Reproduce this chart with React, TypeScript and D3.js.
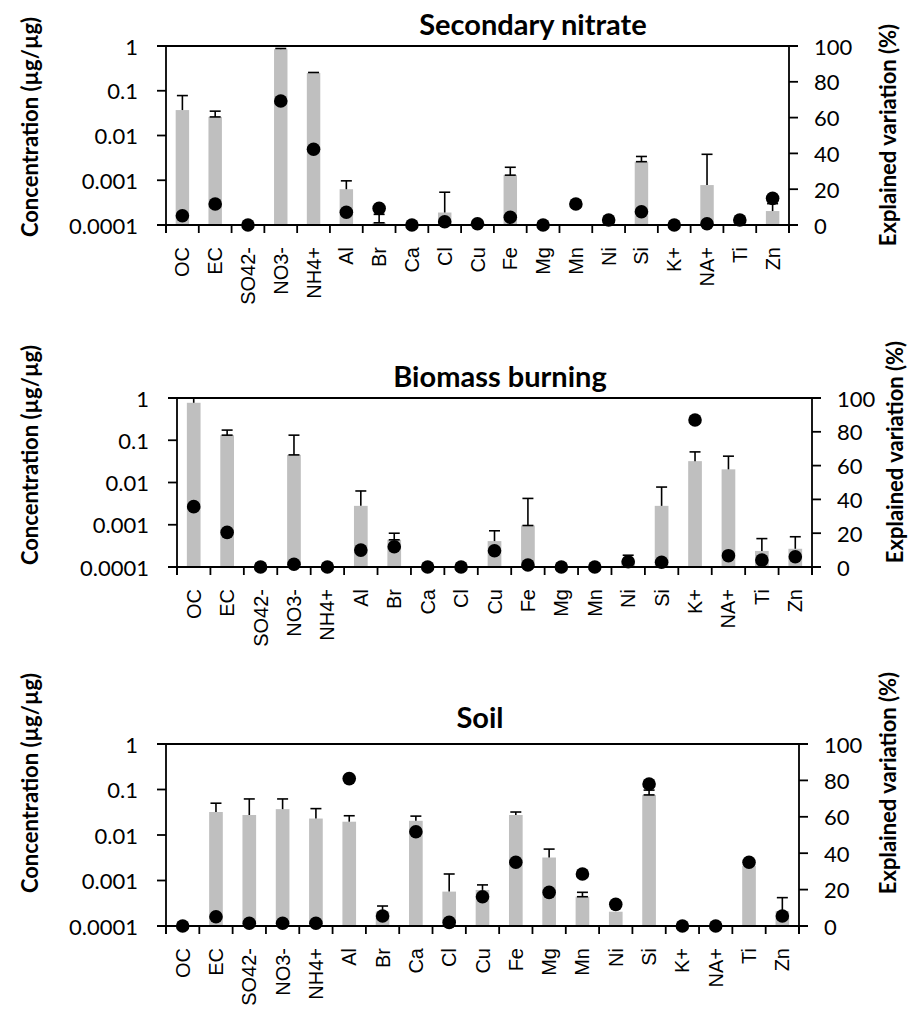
import React from "react";
import * as d3 from "d3";

// Chemical species shown on every panel
const categories = [
  "OC", "EC", "SO42-", "NO3-", "NH4+", "Al", "Br", "Ca", "Cl", "Cu",
  "Fe", "Mg", "Mn", "Ni", "Si", "K+", "NA+", "Ti", "Zn",
];

const concTicks = [0.0001, 0.001, 0.01, 0.1, 1];
const concTickLabels = ["0.0001", "0.001", "0.01", "0.1", "1"];
const pctTicks = [0, 20, 40, 60, 80, 100];

// Secondary nitrate profile: concentration (µg/µg), upper error limit, explained variation (%)
const nitrateConc = [
  0.037, 0.026, 0.0001, 0.85, 0.25, 0.00063, 0.000112, 0.0001, 0.00019, 0.0001,
  0.0013, 0.0001, 0.000102, 0.000102, 0.0026, 0.0001, 0.00078, 0.000101, 0.000205,
];
const nitrateErrHi = [
  0.078, 0.035, null, 0.88, 0.256, 0.00097, 0.000173, null, 0.00054, null,
  0.00195, null, null, null, 0.0034, null, 0.0038, null, 0.0003,
];
const nitrateExplained = [
  5.2, 11.7, 0, 69.3, 42.3, 7.1, 9.3, 0, 1.8, 0.7,
  4.3, 0, 11.7, 2.8, 7.4, 0, 0.7, 2.8, 14.9,
];
const nitrateLowerCaps = ["EC", "Br", "Fe", "Si"];

// Biomass burning profile
const biomassConc = [
  0.77, 0.132, 0.0001, 0.045, 0.0001, 0.0028, 0.00044, 0.0001, 0.0001, 0.00041,
  0.00096, 0.0001, 0.0001, 0.000147, 0.0028, 0.032, 0.0205, 0.00024, 0.00027,
];
const biomassErrHi = [
  1.0, 0.174, null, 0.132, null, 0.0063, 0.00063, null, null, 0.00072,
  0.0042, null, null, 0.00019, 0.0078, 0.053, 0.042, 0.00047, 0.00052,
];
const biomassExplained = [
  35.7, 20.5, 0, 1.6, 0, 10, 12, 0, 0, 9.6,
  1.2, 0, 0, 3.1, 2.8, 87, 6.7, 4.1, 6.1,
];
const biomassLowerCaps = ["EC", "NO3-", "Br", "Fe"];

// Soil profile
const soilConc = [
  0.0001, 0.032, 0.0275, 0.037, 0.023, 0.0196, 0.000206, 0.0205, 0.00057, 0.00062,
  0.0275, 0.0032, 0.00044, 0.000206, 0.076, 0.0001, 0.0001, 0.0021, 0.00021,
];
const soilErrHi = [
  null, 0.05, 0.062, 0.062, 0.038, 0.0265, 0.000275, 0.026, 0.00139, 0.0008,
  0.032, 0.0049, 0.00055, null, 0.097, null, null, null, 0.00042,
];
const soilExplained = [
  0, 5.1, 1.5, 1.5, 1.5, 81, 5.5, 51.8, 2, 16.1,
  35, 18.5, 28.6, 11.9, 78, 0, 0, 35, 5.5,
];
const soilLowerCaps = ["Si", "Mn"];

type PanelSpec = {
  title: string;
  conc: number[];
  errHi: (number | null)[];
  explained: number[];
  lowerCaps: string[];
  left: number;
  right: number;
  top: number;
  bottom: number;
  titleX: number;
  titleY: number;
  leftTitleY: number;
  rightTitleX: number;
  rightTitleY: number;
};

const panels: PanelSpec[] = [
  {
    title: "Secondary nitrate",
    conc: nitrateConc, errHi: nitrateErrHi, explained: nitrateExplained, lowerCaps: nitrateLowerCaps,
    left: 166, right: 789, top: 46, bottom: 225,
    titleX: 533, titleY: 35, leftTitleY: 127, rightTitleX: 887, rightTitleY: 135,
  },
  {
    title: "Biomass burning",
    conc: biomassConc, errHi: biomassErrHi, explained: biomassExplained, lowerCaps: biomassLowerCaps,
    left: 177, right: 812, top: 398, bottom: 567,
    titleX: 500, titleY: 387, leftTitleY: 455, rightTitleX: 894, rightTitleY: 452,
  },
  {
    title: "Soil",
    conc: soilConc, errHi: soilErrHi, explained: soilExplained, lowerCaps: soilLowerCaps,
    left: 166, right: 799, top: 744, bottom: 926,
    titleX: 480, titleY: 728, leftTitleY: 783, rightTitleX: 887, rightTitleY: 783,
  },
];

const NUM_FONT = "Lato, 'Open Sans', sans-serif";
const CAT_FONT = "'Liberation Sans', Arial, sans-serif";
const AXIS = "#000";
const BAR = "#bfbfbf";
const TICK = 9;

function Panel({ p }: { p: PanelSpec }) {
  const x = d3.scaleBand<string>().domain(categories).range([p.left, p.right]).padding(0);
  const y = d3.scaleLog().domain([1e-4, 1]).range([p.bottom, p.top]).clamp(true);
  const yPct = d3.scaleLinear().domain([0, 100]).range([p.bottom, p.top]);
  const bw = x.bandwidth() * 0.41;
  const capW = 11;
  const cx = (c: string) => (x(c) as number) + x.bandwidth() / 2;
  const boundaries = d3.range(categories.length + 1).map((i) => p.left + i * x.bandwidth());

  return (
    <g>
      {/* bars */}
      {categories.map((c, i) => {
        const v = p.conc[i];
        const yt = y(v);
        return (
          <rect key={"b" + c} x={cx(c) - bw / 2} y={yt} width={bw} height={Math.max(0, p.bottom - yt)} fill={BAR} />
        );
      })}
      {/* error bars */}
      {categories.map((c, i) => {
        const hi = p.errHi[i];
        if (hi == null) return null;
        const y0 = y(p.conc[i]);
        const y1 = y(hi);
        const xc = cx(c);
        return (
          <g key={"e" + c} stroke="#000" strokeWidth={1.6}>
            <line x1={xc} x2={xc} y1={y0} y2={y1} />
            <line x1={xc - capW / 2} x2={xc + capW / 2} y1={y1} y2={y1} />
            {p.lowerCaps.includes(c) && (
              <line x1={xc - capW / 2} x2={xc + capW / 2} y1={y0} y2={y0} />
            )}
          </g>
        );
      })}
      {/* axes */}
      <g stroke={AXIS} strokeWidth={1.8} fill="none">
        <line x1={p.left - TICK} x2={p.right + TICK} y1={p.top} y2={p.top} />
        <line x1={p.left - TICK} x2={p.right + TICK} y1={p.bottom} y2={p.bottom} />
        <line x1={p.left} x2={p.left} y1={p.top} y2={p.bottom + TICK - 1} />
        <line x1={p.right} x2={p.right} y1={p.top} y2={p.bottom + TICK - 1} />
        {concTicks.map((t) => (
          <line key={"lt" + t} x1={p.left - TICK} x2={p.left} y1={y(t)} y2={y(t)} />
        ))}
        {pctTicks.map((t) => (
          <line key={"rt" + t} x1={p.right} x2={p.right + TICK} y1={yPct(t)} y2={yPct(t)} />
        ))}
        {boundaries.map((bx, i) => (
          <line key={"xt" + i} x1={bx} x2={bx} y1={p.bottom} y2={p.bottom + TICK - 1} />
        ))}
      </g>
      {/* explained variation */}
      {categories.map((c, i) => (
        <circle key={"d" + c} cx={cx(c)} cy={yPct(p.explained[i])} r={6.8} fill="#000" />
      ))}
      {/* left tick labels */}
      {concTicks.map((t, i) => (
        <text key={"ll" + t} x={p.left - 28} y={y(t)} textAnchor="end" dominantBaseline="central"
          fontFamily={NUM_FONT} fontSize={22} fill="#000">
          {concTickLabels[i]}
        </text>
      ))}
      {/* right tick labels */}
      {pctTicks.map((t) => (
        <text key={"rl" + t} x={p.right + 25} y={yPct(t)} textAnchor="start" dominantBaseline="central"
          fontFamily={NUM_FONT} fontSize={22} fill="#000">
          {t}
        </text>
      ))}
      {/* category labels */}
      {categories.map((c) => (
        <text key={"cl" + c} transform={`translate(${cx(c)},${p.bottom + 22}) rotate(-90)`}
          textAnchor="end" dominantBaseline="central" fontFamily={CAT_FONT} fontSize={20} fill="#000">
          {c}
        </text>
      ))}
      {/* titles */}
      <text x={p.titleX} y={p.titleY} textAnchor="middle" fontFamily={NUM_FONT} fontWeight="bold"
        fontSize={29} fill="#000">
        {p.title}
      </text>
      <text transform={`translate(29,${p.leftTitleY}) rotate(-90)`} textAnchor="middle" dominantBaseline="central"
        fontFamily={NUM_FONT} fontWeight="bold" fontSize={22} fill="#000">
        Concentration (µg/µg)
      </text>
      <text transform={`translate(${p.rightTitleX},${p.rightTitleY}) rotate(-90)`} textAnchor="middle"
        dominantBaseline="central" fontFamily={NUM_FONT} fontWeight="bold" fontSize={22} fill="#000">
        Explained variation (%)
      </text>
    </g>
  );
}

export default function App() {
  return (
    <svg width={913} height={1013} style={{ position: "absolute", left: 0, top: 0, background: "#fff" }}>
      <rect width={913} height={1013} fill="#fff" />
      {panels.map((p) => (
        <Panel key={p.title} p={p} />
      ))}
    </svg>
  );
}
